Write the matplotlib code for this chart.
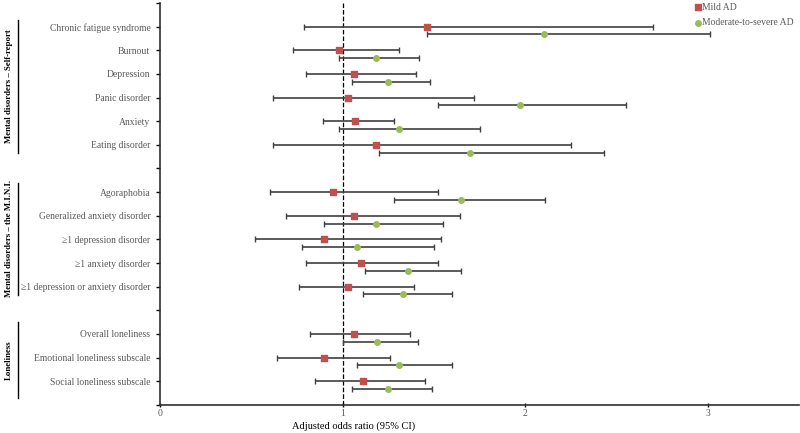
import numpy as np
import matplotlib
matplotlib.use("Agg")
import matplotlib.pyplot as plt
import matplotlib.transforms as mtransforms

# outcomes, top to bottom (None = gap between groups)
outcomes = [
    "Chronic fatigue syndrome", "Burnout", "Depression", "Panic disorder",
    "Anxiety", "Eating disorder", None,
    "Agoraphobia", "Generalized anxiety disorder", "\u22651 depression disorder",
    "\u22651 anxiety disorder", "\u22651 depression or anxiety disorder", None,
    "Overall loneliness", "Emotional loneliness subscale", "Social loneliness subscale",
]

# Mild AD: odds ratio, lower and upper CI
mild_or = [1.46, 0.98, 1.06, 1.03, 1.07, 1.18, 0.95, 1.06, 0.90, 1.10, 1.03, 1.06, 0.90, 1.11]
mild_lo = [0.79, 0.73, 0.80, 0.62, 0.89, 0.62, 0.60, 0.69, 0.52, 0.80, 0.76, 0.82, 0.64, 0.85]
mild_hi = [2.70, 1.31, 1.40, 1.72, 1.28, 2.25, 1.52, 1.64, 1.54, 1.52, 1.39, 1.37, 1.26, 1.45]

# Moderate-to-severe AD
mod_or = [2.10, 1.18, 1.25, 1.97, 1.31, 1.70, 1.65, 1.18, 1.08, 1.36, 1.33, 1.19, 1.31, 1.25]
mod_lo = [1.46, 0.98, 1.05, 1.52, 0.98, 1.20, 1.28, 0.90, 0.78, 1.12, 1.11, 1.00, 1.08, 1.05]
mod_hi = [3.01, 1.42, 1.48, 2.55, 1.75, 2.43, 2.11, 1.55, 1.50, 1.65, 1.60, 1.41, 1.60, 1.49]

groups = ["Mental disorders \u2013 Self-report", "Mental disorders \u2013 the M.I.N.I.", "Loneliness"]
group_spans = [(0.72, 6.34), (7.6, 12.35), (13.5, 16.7)]

xticks = [0, 1, 2, 3]

plt.rcParams['font.family'] = ['Liberation Serif', 'DejaVu Serif']

fig = plt.figure(figsize=(8, 4.33), dpi=100)
ax = fig.add_axes([0.2, 0.065, 0.799, 0.928])

rows = np.array([i + 1 for i, o in enumerate(outcomes) if o is not None], dtype=float)
labels = [o for o in outcomes if o is not None]

mild_or = np.array(mild_or); mild_lo = np.array(mild_lo); mild_hi = np.array(mild_hi)
mod_or = np.array(mod_or); mod_lo = np.array(mod_lo); mod_hi = np.array(mod_hi)

bar_col = '#404040'
red = '#C0504D'
green = '#9BBB59'

ax.errorbar(mild_or, rows, xerr=[mild_or - mild_lo, mild_hi - mild_or], fmt='none',
            ecolor=bar_col, elinewidth=1.2, capsize=2.2, capthick=1.0, zorder=2)
ax.errorbar(mod_or, rows + 0.33, xerr=[mod_or - mod_lo, mod_hi - mod_or], fmt='none',
            ecolor=bar_col, elinewidth=1.2, capsize=2.2, capthick=1.0, zorder=2)
ax.scatter(mild_or, rows, marker='s', s=22, color=red, zorder=3, label='Mild AD')
ax.scatter(mod_or, rows + 0.33, marker='o', s=16, color=green, zorder=3,
           label='Moderate-to-severe AD')

ax.axvline(1, color='black', linestyle='--', linewidth=0.9, zorder=1)

ax.set_xlim(0, 3.5)
ax.set_ylim(17, 0)
ax.set_xticks(xticks)
ax.set_xticklabels([str(t) for t in xticks], fontsize=7, color='#595959')
ax.set_yticks(np.arange(0, 18))
ylab = [''] * 18
for r, l in zip(rows, labels):
    ylab[int(r)] = l
ax.set_yticklabels(ylab, fontsize=6.9, color='#595959')
ax.tick_params(axis='y', length=3, width=1, pad=4)
ax.tick_params(axis='x', length=3, width=1, direction='inout', pad=1.5)
for s in ['top', 'right']:
    ax.spines[s].set_visible(False)
for s in ['left', 'bottom']:
    ax.spines[s].set_linewidth(1.2)
    ax.spines[s].set_color('#303030')

ax.text(1.06, -0.054, "Adjusted odds ratio (95% CI)",
        transform=mtransforms.blended_transform_factory(ax.transData, ax.transAxes),
        ha='center', va='center', fontsize=7.5)

# group labels with bracket lines
tr = mtransforms.blended_transform_factory(fig.transFigure, ax.transData)
for g, (y0, y1) in zip(groups, group_spans):
    ax.plot([0.0225, 0.0225], [y0, y1], color='black', linewidth=1.0, transform=tr, clip_on=False)
    ax.text(0.011, (y0 + y1) / 2, g, transform=tr, rotation=90, ha='center', va='center',
            fontsize=6.3, fontweight='bold')

leg = fig.legend(loc='upper left', bbox_to_anchor=(0.862, 1.003), frameon=False,
                 fontsize=6.9, handletextpad=-0.1, labelspacing=0.7, handlelength=1.0,
                 borderaxespad=0)
for t in leg.get_texts():
    t.set_color('#595959')

fig.savefig('out.png', dpi=100)
